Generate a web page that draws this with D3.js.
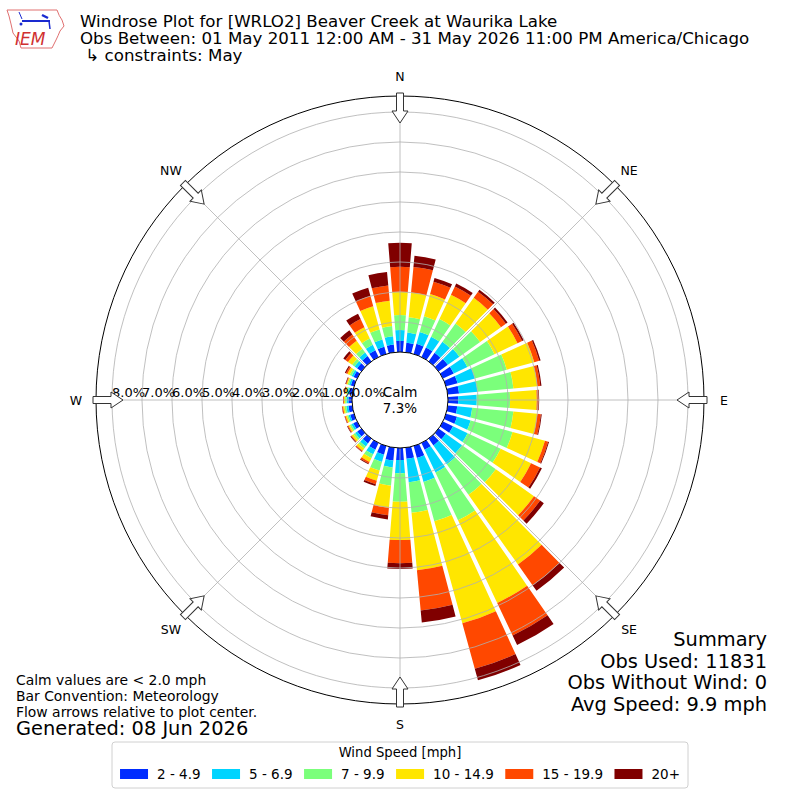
<!DOCTYPE html>
<html>
<head>
<meta charset="utf-8">
<script src="https://cdn.jsdelivr.net/npm/d3@7"></script>
<style>
  body { margin: 0; background: #fff; }
  text { font-family: "DejaVu Sans", sans-serif; fill: #000; }
</style>
</head>
<body>
<svg id="chart" width="800" height="800"></svg>
<script>
// direction bins (degrees, meteorological, bar centre)
const directions = d3.range(0, 360, 10);

// percent of observations per direction, one array per speed class
const speed2to5   = [0.37,0.32,0.35,0.35,0.35,0.38,0.40,0.40,0.38,0.34,0.32,0.38,0.37,0.30,0.28,0.25,0.41,0.37,0.40,0.43,0.30,0.25,0.20,0.17,0.14,0.13,0.13,0.12,0.11,0.11,0.13,0.18,0.22,0.25,0.25,0.26];
const speed5to7   = [0.36,0.34,0.41,0.40,0.45,0.47,0.50,0.60,0.62,0.62,0.50,0.47,0.54,0.66,0.77,0.84,0.83,0.79,0.44,0.23,0.25,0.17,0.12,0.09,0.07,0.06,0.07,0.06,0.05,0.06,0.07,0.10,0.14,0.20,0.25,0.28];
const speed7to10  = [0.50,0.51,0.54,0.65,0.75,0.85,1.00,1.10,1.20,1.11,1.38,1.45,1.22,1.38,1.25,1.76,1.36,1.02,0.95,0.61,0.30,0.14,0.09,0.07,0.06,0.05,0.06,0.05,0.04,0.05,0.07,0.10,0.16,0.23,0.35,0.34];
const speed10to15 = [0.78,0.83,0.77,0.90,1.05,0.85,0.85,0.95,0.80,0.89,0.80,1.12,1.12,1.56,2.85,3.05,3.53,1.92,1.28,0.74,0.35,0.14,0.09,0.07,0.05,0.05,0.05,0.04,0.04,0.04,0.09,0.17,0.33,0.42,0.80,0.85];
const speed15to20 = [0.83,0.86,0.43,0.30,0.25,0.20,0.17,0.17,0.10,0.06,0.12,0.11,0.33,0.25,0.85,1.20,1.57,1.35,0.77,0.25,0.12,0.06,0.03,0.03,0.03,0.03,0.03,0.02,0.02,0.02,0.05,0.11,0.25,0.30,0.35,0.51];
const speed20plus = [0.80,0.37,0.13,0.11,0.08,0.07,0.06,0.05,0.04,0.02,0.03,0.03,0.07,0.15,0.22,0.35,0.40,0.40,0.19,0.14,0.06,0.03,0.02,0.02,0.02,0.01,0.01,0.01,0.02,0.02,0.04,0.08,0.17,0.20,0.29,0.45];

const speedLabels = ["2 - 4.9", "5 - 6.9", "7 - 9.9", "10 - 14.9", "15 - 19.9", "20+"];
const speedColors = ["#002cff", "#00d4ff", "#7bff7b", "#ffe600", "#ff4800", "#800000"];
const ringTicks = [0, 1, 2, 3, 4, 5, 6, 7, 8];
const compassNames = ["N", "NE", "E", "SE", "S", "SW", "W", "NW"];
const calmPercent = 7.3;

const titleLines = [
  "Windrose Plot for [WRLO2] Beaver Creek at Waurika Lake",
  "Obs Between: 01 May 2011 12:00 AM - 31 May 2026 11:00 PM America/Chicago",
  " \u21b3 constraints: May"
];
const noteLines = ["Calm values are < 2.0 mph", "Bar Convention: Meteorology", "Flow arrows relative to plot center."];
const generatedText = "Generated: 08 Jun 2026";
const summaryLines = ["Summary", "Obs Used: 11831", "Obs Without Wind: 0", "Avg Speed: 9.9 mph"];

const svg = d3.select("#chart");
const cx = 400, cy = 400;
const rMaxPct = 8.5333;
const r = d3.scaleLinear().domain([0, rMaxPct]).range([48, 304]);
const rad = deg => deg * Math.PI / 180;

// build rows for stacking
const keys = ["s0", "s1", "s2", "s3", "s4", "s5"];
const series = [speed2to5, speed5to7, speed7to10, speed10to15, speed15to20, speed20plus];
const rows = directions.map((dir, i) => {
  const row = { dir: dir };
  keys.forEach((k, j) => row[k] = series[j][i]);
  return row;
});
const stacked = d3.stack().keys(keys)(rows);

const plot = svg.append("g").attr("transform", `translate(${cx},${cy})`);

const half = 5 - 0.34; // angular opening of each bar
const arc = d3.arc()
  .innerRadius(d => r(d[0]))
  .outerRadius(d => r(d[1]))
  .startAngle(d => rad(d.data.dir - half))
  .endAngle(d => rad(d.data.dir + half))
  .padRadius(100)
  .padAngle(0.02);

plot.selectAll(".layer")
  .data(stacked)
  .enter().append("g")
  .attr("class", "layer")
  .attr("fill", (d, i) => speedColors[i])
  .selectAll("path")
  .data(d => d)
  .enter().append("path")
  .attr("d", arc);

// grid rings
plot.selectAll(".ring")
  .data(ringTicks.slice(1))
  .enter().append("circle")
  .attr("r", d => r(d))
  .attr("fill", "none")
  .attr("stroke", "#b0b0b0")
  .attr("stroke-width", 0.8);

// radial grid lines
plot.selectAll(".spoke")
  .data(d3.range(0, 360, 45))
  .enter().append("line")
  .attr("x1", d => r(0) * Math.sin(rad(d)))
  .attr("y1", d => -r(0) * Math.cos(rad(d)))
  .attr("x2", d => r(rMaxPct) * Math.sin(rad(d)))
  .attr("y2", d => -r(rMaxPct) * Math.cos(rad(d)))
  .attr("stroke", "#b0b0b0")
  .attr("stroke-width", 0.8);

// outer frame
plot.append("circle")
  .attr("r", r(rMaxPct))
  .attr("fill", "none")
  .attr("stroke", "#000")
  .attr("stroke-width", 1);

// calm circle
plot.append("circle")
  .attr("r", r(0))
  .attr("fill", "#fff")
  .attr("stroke", "#000")
  .attr("stroke-width", 1);

// ring labels along the west axis
plot.selectAll(".rlabel")
  .data(ringTicks)
  .enter().append("text")
  .attr("x", d => -r(d))
  .attr("y", -3)
  .attr("font-size", 13)
  .text(d => d.toFixed(1) + "%");

plot.append("text").attr("x", 0).attr("y", -3).attr("text-anchor", "middle")
  .attr("font-size", 13.5).text("Calm");
plot.append("text").attr("x", 0).attr("y", 12.5).attr("text-anchor", "middle")
  .attr("font-size", 13.5).text(calmPercent.toFixed(1) + "%");

// flow arrows pointing to the centre
const arrowPts = [[0,0],[-8,-12],[-3.5,-12],[-3.5,-30],[3.5,-30],[3.5,-12],[8,-12]];
plot.selectAll(".arrow")
  .data(d3.range(0, 360, 45))
  .enter().append("polygon")
  .attr("points", arrowPts.map(p => p.join(",")).join(" "))
  .attr("transform", d => `translate(${277 * Math.sin(rad(d))},${-277 * Math.cos(rad(d))}) rotate(${d})`)
  .attr("fill", "#fff")
  .attr("stroke", "#333")
  .attr("stroke-width", 1);

// compass labels
plot.selectAll(".compass")
  .data(compassNames)
  .enter().append("text")
  .attr("x", (d, i) => 324 * Math.sin(rad(i * 45)))
  .attr("y", (d, i) => -324 * Math.cos(rad(i * 45)))
  .attr("text-anchor", "middle")
  .attr("dominant-baseline", "central")
  .attr("font-size", 12.5)
  .text(d => d);

// titles
svg.selectAll(".title")
  .data(titleLines)
  .enter().append("text")
  .attr("x", 80)
  .attr("y", (d, i) => 26.5 + i * 17)
  .attr("font-size", 16.67)
  .style("white-space", "pre")
  .text(d => d);

// notes bottom left
svg.selectAll(".note")
  .data(noteLines)
  .enter().append("text")
  .attr("x", 16)
  .attr("y", (d, i) => 684.5 + i * 16)
  .attr("font-size", 13.9)
  .text(d => d);
svg.append("text").attr("x", 16).attr("y", 735).attr("font-size", 19.4).text(generatedText);

// summary bottom right
svg.selectAll(".summary")
  .data(summaryLines)
  .enter().append("text")
  .attr("x", 767)
  .attr("y", (d, i) => 646 + i * 21.7)
  .attr("text-anchor", "end")
  .attr("font-size", 19.4)
  .text(d => d);

// legend
const legend = svg.append("g");
legend.append("rect")
  .attr("x", 112).attr("y", 742).attr("width", 576).attr("height", 46)
  .attr("rx", 3).attr("fill", "#fff").attr("stroke", "#d0d0d0");
legend.append("text").attr("x", 400).attr("y", 757).attr("text-anchor", "middle")
  .attr("font-size", 13.2).text("Wind Speed [mph]");
const items = legend.append("g");
let lx = 0;
speedLabels.forEach((lab, i) => {
  items.append("rect").attr("x", lx).attr("y", 769).attr("width", 28).attr("height", 10)
    .attr("fill", speedColors[i]);
  const t = items.append("text").attr("x", lx + 37).attr("y", 779)
    .attr("font-size", 13.5).text(lab);
  lx += 37 + t.node().getComputedTextLength() + (i < speedLabels.length - 1 ? 11.5 : 0);
});
items.attr("transform", `translate(${400 - lx / 2},0)`);

// IEM logo (rough)
const logo = svg.append("g");
logo.append("path")
  .attr("d", "M7,10 L57,10 Q59,16 62,20 L64,26 L60,31 Q58,36 56,40 L54,44 L52,48 L21,48 L19,41 L13,33 L11,24 L9,16 Z")
  .attr("fill", "none").attr("stroke", "#e07070").attr("stroke-width", 1);
logo.append("line").attr("x1", 22).attr("y1", 21).attr("x2", 50).attr("y2", 21)
  .attr("stroke", "#1a2ad0").attr("stroke-width", 2);
logo.append("line").attr("x1", 42).attr("y1", 15).attr("x2", 48).attr("y2", 18)
  .attr("stroke", "#1a2ad0").attr("stroke-width", 2.5);
logo.append("line").attr("x1", 19).attr("y1", 12).attr("x2", 22).attr("y2", 19)
  .attr("stroke", "#1a2ad0").attr("stroke-width", 1);
logo.append("line").attr("x1", 49).attr("y1", 21).attr("x2", 50).attr("y2", 29)
  .attr("stroke", "#1a2ad0").attr("stroke-width", 1.5);
logo.append("circle").attr("cx", 21).attr("cy", 24).attr("r", 1.5).attr("fill", "#1a2ad0");
logo.append("text").attr("x", 15).attr("y", 45)
  .attr("font-family", "Liberation Serif, serif").attr("font-style", "italic")
  .attr("font-size", 17).style("fill", "#d03030").text("IEM");
</script>
</body>
</html>
